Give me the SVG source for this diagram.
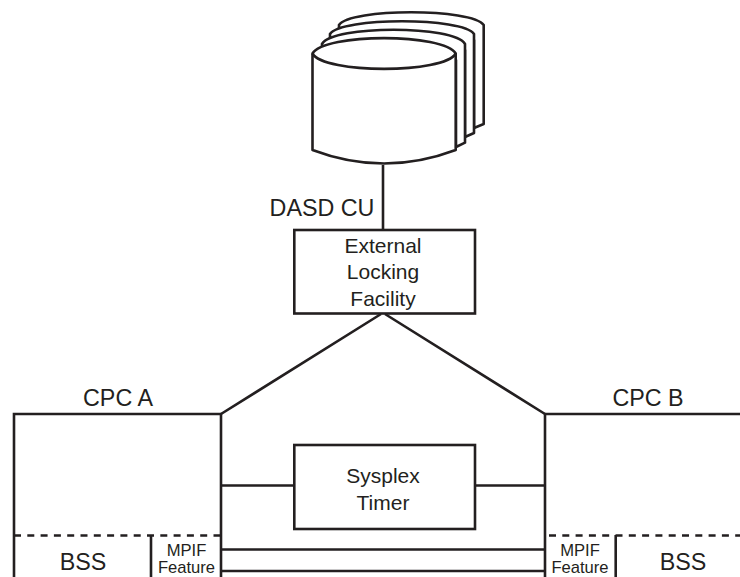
<svg xmlns="http://www.w3.org/2000/svg" width="740" height="577" viewBox="0 0 740 577">
<style>
.s{fill:none;stroke:#231f20;stroke-width:2.6}
.c{fill:#fff;stroke:#231f20;stroke-width:2.6;stroke-linejoin:round}
.d{fill:none;stroke:#231f20;stroke-width:2.6;stroke-dasharray:7 6.300}
text{font-family:"Liberation Sans",Arial,sans-serif;fill:#231f20;text-anchor:middle}
.l{font-size:23.3px}.m{font-size:21px}.f{font-size:16.6px}
</style>
<rect width="740" height="577" fill="#fff"/>
<g id="connectors">
<path class="s" d="M383 165V230"/>
<path class="s" d="M381 314L221 414M385 314L545 414"/>
<path class="s" d="M14 577V414H221V577"/>
<path class="s" d="M740 414H545V577"/>
<path class="s" d="M221 485.500H294M475 485.500H545"/>
<path class="s" d="M221 549.500H545M221 571H545"/>
<path class="d" d="M14 535.500H221M549 535.500H740"/>
<path class="s" d="M151 535V577M615.700 535V577"/>
</g>
<g id="dasd-cu">
<path class="c" d="M339 25C350 8 472 8 483.700 25V124L474 128V40H339Z"/>
<path class="c" d="M330 34C341 17 463 17 474 34V133L465 137V50H330Z"/>
<path class="c" d="M322 44C333 25 454 25 465 44V142.700L456 147V60H322Z"/>
<path class="c" d="M312.500 53.500C324 33 444 33 455.700 53.500V150C408 168 360 168 312.500 150Z"/>
<path class="s" d="M312.500 53.500C324 74 444 74 455.700 53.500"/>
<text class="l" x="322" y="216">DASD CU</text>
</g>
<g id="external-locking-facility">
<rect class="s" x="294.300" y="230" width="180.700" height="83.500"/>
<text class="m" x="383" y="253">External</text>
<text class="m" x="383" y="279">Locking</text>
<text class="m" x="383" y="306">Facility</text>
</g>
<g id="cpc-a"><text class="l" x="118" y="406">CPC A</text></g>
<g id="cpc-b"><text class="l" x="648" y="406">CPC B</text></g>
<g id="sysplex-timer">
<rect class="s" x="294.300" y="445" width="180.700" height="84"/>
<text class="m" x="383" y="483">Sysplex</text>
<text class="m" x="383" y="510">Timer</text>
</g>
<g id="bss-a"><text class="l" x="83" y="570">BSS</text></g>
<g id="mpif-a">
<text class="f" x="186.500" y="556">MPIF</text>
<text class="f" x="186.500" y="573.300">Feature</text>
</g>
<g id="mpif-b">
<text class="f" x="580" y="556">MPIF</text>
<text class="f" x="580" y="573.300">Feature</text>
</g>
<g id="bss-b"><text class="l" x="683" y="570">BSS</text></g>
</svg>
